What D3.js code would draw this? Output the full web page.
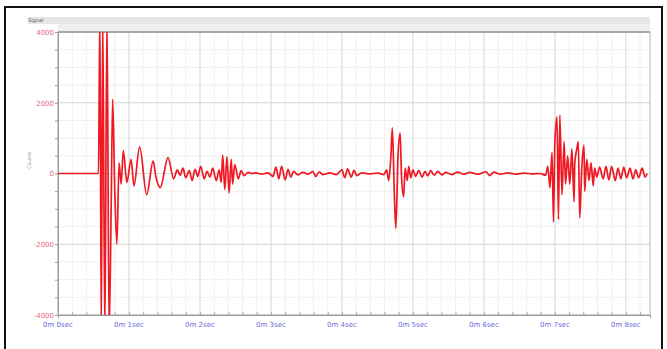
<!DOCTYPE html>
<html>
<head>
<meta charset="utf-8">
<script src="https://cdn.jsdelivr.net/npm/d3@7"></script>
<style>
  body { margin: 0; background: #fff; }
  svg { display: block; font-family: "DejaVu Sans", sans-serif; }
</style>
</head>
<body>
<svg id="chart" width="667" height="349"></svg>
<script>
// seconds
const times = [
  0.00, 0.55, 0.57, 0.59, 0.61, 0.63, 0.66, 0.69, 0.72, 0.75, 0.77, 0.80, 0.83, 0.86, 0.89, 0.92, 0.97,
  1.03, 1.07, 1.15, 1.25, 1.34, 1.38, 1.44, 1.55, 1.63, 1.68, 1.72, 1.76, 1.80, 1.85, 1.89, 1.93, 1.97,
  2.01, 2.06, 2.10, 2.14, 2.18, 2.23, 2.27, 2.30, 2.32, 2.35, 2.38, 2.41, 2.44, 2.46, 2.49, 2.54, 2.58,
  2.62, 2.68, 2.73, 2.79, 2.87, 2.96, 3.03, 3.07, 3.11, 3.15, 3.20, 3.24, 3.28, 3.32, 3.38, 3.45, 3.52,
  3.59, 3.63, 3.68, 3.73, 3.83, 3.92, 4.00, 4.04, 4.08, 4.13, 4.17, 4.21, 4.28, 4.39, 4.51, 4.59, 4.63,
  4.66, 4.69, 4.71, 4.74, 4.76, 4.79, 4.82, 4.84, 4.87, 4.89, 4.92, 4.94, 4.97, 5.00, 5.04, 5.08, 5.13,
  5.17, 5.21, 5.25, 5.30, 5.35, 5.41, 5.46, 5.55, 5.63, 5.72, 5.80, 5.92, 6.03, 6.08, 6.14, 6.23, 6.34,
  6.45, 6.56, 6.68, 6.79, 6.87, 6.90, 6.93, 6.96, 6.98, 7.00, 7.03, 7.05, 7.07, 7.10, 7.13, 7.15, 7.18,
  7.21, 7.24, 7.27, 7.28, 7.31, 7.33, 7.35, 7.38, 7.41, 7.42, 7.45, 7.48, 7.51, 7.54, 7.56, 7.59, 7.63,
  7.68, 7.72, 7.76, 7.80, 7.85, 7.89, 7.93, 7.97, 8.01, 8.06, 8.10, 8.14, 8.18, 8.23, 8.27, 8.30
];
const amplitude = [
  0, 0, 0, 4500, -4500, 4500, -4500, 4500, -4500, -800, 2100, -500, -2000, 300, -300, 650, -250,
  400, -350, 750, -600, 350, -100, -400, 450, -150, 100, -50, 150, -120, 80, -200, 120, -80,
  200, -150, 60, -100, 150, -200, 100, -250, 520, -450, 480, -550, 400, -300, 250, -150, 80,
  -60, 30, 0, 20, -20, 20, -80, 180, -150, 200, -180, 120, -100, 60, -40, 30, -20,
  60, -80, 50, -30, 20, -30, 100, -120, 130, -100, 90, -60, 20, -10, 10, -30, 100,
  -200, 500, 1290, -700, -1550, 500, 1140, -100, -660, 150, -200, 200, -120, 100, -80, 90, -100,
  60, -70, 80, -50, 60, -40, 30, -30, 40, -20, 30, -20, 50, -60, 40, -20, 20,
  -20, 10, -10, 0, -50, 200, -400, 600, -1370, 900, 1600, -1300, 1650, -600, 900, -300, 500,
  -300, 700, -800, 300, 700, 900, -1260, 200, 800, -500, 400, -200, 300, -350, 150, -100, 180,
  -150, 200, -180, 200, -200, 150, -150, 180, -120, 150, -150, 100, -120, 150, -100, 0
];
const yTicks = [4000, 2000, 0, -2000, -4000];
const xTicks = [0, 1, 2, 3, 4, 5, 6, 7, 8];
const xTickLabels = xTicks.map(s => `0m ${s}sec`);

const svg = d3.select('#chart');
const plot = { left: 58, top: 32, right: 650, bottom: 315 };

const x = d3.scaleLinear().domain([0, 8.34]).range([plot.left, plot.right]);
const y = d3.scaleLinear().domain([-4000, 4000]).range([plot.bottom, plot.top]);

// outer frame
svg.append('rect')
  .attr('x', 5).attr('y', 7).attr('width', 657).attr('height', 360)
  .attr('fill', 'none').attr('stroke', '#111').attr('stroke-width', 2);

// header band
svg.append('rect')
  .attr('x', 28).attr('y', 17).attr('width', plot.right - 28).attr('height', 7)
  .attr('fill', '#e6e6e6');
svg.append('rect')
  .attr('x', plot.left).attr('y', 24).attr('width', plot.right - plot.left).attr('height', 8)
  .attr('fill', '#efefef');
svg.append('text')
  .attr('x', 28).attr('y', 22)
  .attr('font-size', 5).attr('fill', '#555')
  .text('Signal');

// grid
const grid = svg.append('g');
grid.selectAll('line.vminor')
  .data(d3.range(0, 8.34, 0.2))
  .join('line')
  .attr('x1', d => x(d)).attr('x2', d => x(d))
  .attr('y1', plot.top).attr('y2', plot.bottom)
  .attr('stroke', '#f0f0f0').attr('stroke-width', 1);
grid.selectAll('line.hminor')
  .data(d3.range(-4000, 4001, 500))
  .join('line')
  .attr('x1', plot.left).attr('x2', plot.right)
  .attr('y1', d => y(d)).attr('y2', d => y(d))
  .attr('stroke', '#f0f0f0').attr('stroke-width', 1);
svg.append('g').selectAll('line')
  .data(xTicks)
  .join('line')
  .attr('x1', d => x(d)).attr('x2', d => x(d))
  .attr('y1', plot.top).attr('y2', plot.bottom)
  .attr('stroke', '#dadada').attr('stroke-width', 1);
svg.append('g').selectAll('line')
  .data(yTicks)
  .join('line')
  .attr('x1', plot.left).attr('x2', plot.right)
  .attr('y1', d => y(d)).attr('y2', d => y(d))
  .attr('stroke', '#dadada').attr('stroke-width', 1);

// plot border
svg.append('rect')
  .attr('x', plot.left).attr('y', plot.top)
  .attr('width', plot.right - plot.left).attr('height', plot.bottom - plot.top)
  .attr('fill', 'none').attr('stroke', '#b5b5b5').attr('stroke-width', 1);
svg.append('line')
  .attr('x1', plot.left).attr('x2', plot.right)
  .attr('y1', plot.top).attr('y2', plot.top)
  .attr('stroke', '#a8a8a8').attr('stroke-width', 2);

// axes
const yAxis = d3.axisLeft(y)
  .tickValues(d3.range(-4000, 4001, 500))
  .tickSize(3)
  .tickFormat(d => yTicks.includes(d) ? d : '');
svg.append('g')
  .attr('transform', `translate(${plot.left},0)`)
  .call(yAxis)
  .call(g => g.select('.domain').attr('stroke', '#999'))
  .call(g => g.selectAll('.tick line').attr('stroke', '#999'))
  .call(g => g.selectAll('.tick text')
    .attr('font-size', 7).attr('fill', '#e8647c').attr('x', -4)
    .attr('font-family', '"DejaVu Sans", sans-serif'));

const xAxis = d3.axisBottom(x)
  .tickValues(d3.range(0, 8.34, 0.2))
  .tickSize(3)
  .tickFormat('');
svg.append('g')
  .attr('transform', `translate(0,${plot.bottom})`)
  .call(xAxis)
  .call(g => g.select('.domain').attr('stroke', '#999'))
  .call(g => g.selectAll('.tick line').attr('stroke', '#aaa').attr('y2', -3));

svg.append('g').selectAll('text')
  .data(xTicks)
  .join('text')
  .attr('x', d => x(d)).attr('y', 327)
  .attr('text-anchor', 'middle')
  .attr('font-size', 7).attr('fill', '#6a6ad8')
  .text((d, i) => xTickLabels[i]);

svg.append('text')
  .attr('transform', 'translate(31,160) rotate(-90)')
  .attr('text-anchor', 'middle')
  .attr('font-size', 5).attr('fill', '#9a9aaa')
  .text('Counts');

// signal
svg.append('clipPath').attr('id', 'clip')
  .append('rect')
  .attr('x', plot.left).attr('y', plot.top)
  .attr('width', plot.right - plot.left).attr('height', plot.bottom - plot.top);

const line = d3.line()
  .x((d, i) => x(times[i]))
  .y(d => y(d))
  .curve(d3.curveMonotoneX);

svg.append('path')
  .datum(amplitude)
  .attr('clip-path', 'url(#clip)')
  .attr('d', line)
  .attr('fill', 'none')
  .attr('stroke', '#f01822')
  .attr('stroke-width', 1.7)
  .attr('stroke-linejoin', 'round');
</script>
</body>
</html>
